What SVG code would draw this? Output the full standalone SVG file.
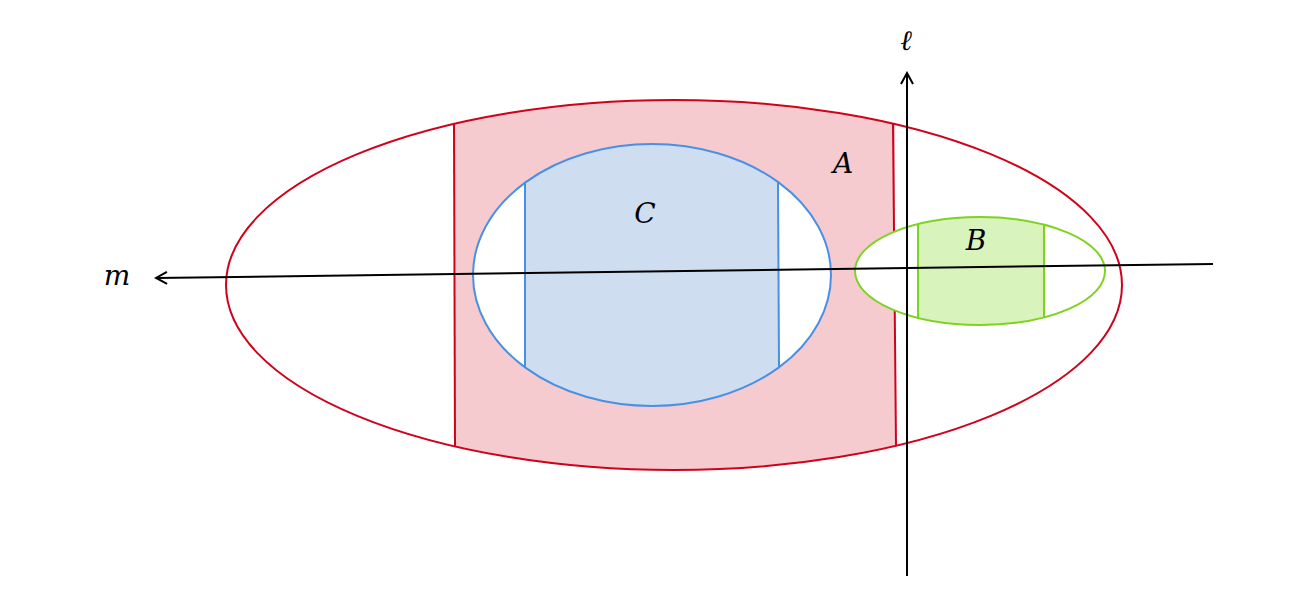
<svg xmlns="http://www.w3.org/2000/svg" width="1316" height="604" viewBox="0 0 1316 604">
<style>
.lbl{font-family:"DejaVu Serif","Liberation Serif",serif;font-style:italic;font-size:28px;fill:#000;text-anchor:middle}
.ax{stroke:#000;stroke-width:2;fill:none}
</style>
<defs>
<clipPath id="cA"><ellipse cx="674" cy="285" rx="448" ry="185"/></clipPath>
<clipPath id="cC"><ellipse cx="652" cy="275" rx="179" ry="131"/></clipPath>
<clipPath id="cB"><ellipse cx="980" cy="271" rx="125" ry="54"/></clipPath>
<marker id="ar" markerWidth="14" markerHeight="14" refX="12" refY="7" orient="auto" markerUnits="userSpaceOnUse"><path d="M1,1 L12,7 L1,13" fill="none" stroke="#000" stroke-width="2"/></marker>
</defs>
<g id="A">
<rect x="454" y="90" width="441" height="400" fill="#f5cbd0" clip-path="url(#cA)"/>
<ellipse cx="674" cy="285" rx="448" ry="185" fill="none" stroke="#d0021b" stroke-width="2"/>
<line x1="454" y1="124" x2="455" y2="446" stroke="#d0021b" stroke-width="2"/>
<line x1="893" y1="123" x2="896" y2="445" stroke="#d0021b" stroke-width="2"/>
<text class="lbl" x="843" y="173">A</text>
</g>
<g id="C">
<ellipse cx="652" cy="275" rx="179" ry="131" fill="#fff"/>
<rect x="525" y="140" width="254" height="270" fill="#cfddf0" clip-path="url(#cC)"/>
<ellipse cx="652" cy="275" rx="179" ry="131" fill="none" stroke="#4a90e2" stroke-width="2"/>
<line x1="525" y1="183" x2="525" y2="367" stroke="#4a90e2" stroke-width="2"/>
<line x1="778" y1="181" x2="779" y2="367" stroke="#4a90e2" stroke-width="2"/>
<text class="lbl" x="645" y="223">C</text>
</g>
<g id="B">
<ellipse cx="980" cy="271" rx="125" ry="54" fill="#fff"/>
<rect x="918" y="210" width="126" height="120" fill="#d8f4bc" clip-path="url(#cB)"/>
<ellipse cx="980" cy="271" rx="125" ry="54" fill="none" stroke="#7ed321" stroke-width="2"/>
<line x1="918" y1="224" x2="918" y2="318" stroke="#7ed321" stroke-width="2"/>
<line x1="1044" y1="224" x2="1044" y2="318" stroke="#7ed321" stroke-width="2"/>
<text class="lbl" x="976" y="250">B</text>
</g>
<g id="connectors">
<line class="ax" x1="1213" y1="264" x2="156" y2="278" marker-end="url(#ar)"/>
<line class="ax" x1="907" y1="576" x2="907" y2="73" marker-end="url(#ar)"/>
</g>
<g id="labels">
<text class="lbl" x="906" y="50">ℓ</text>
<text class="lbl" x="117" y="285">m</text>
</g>
</svg>
